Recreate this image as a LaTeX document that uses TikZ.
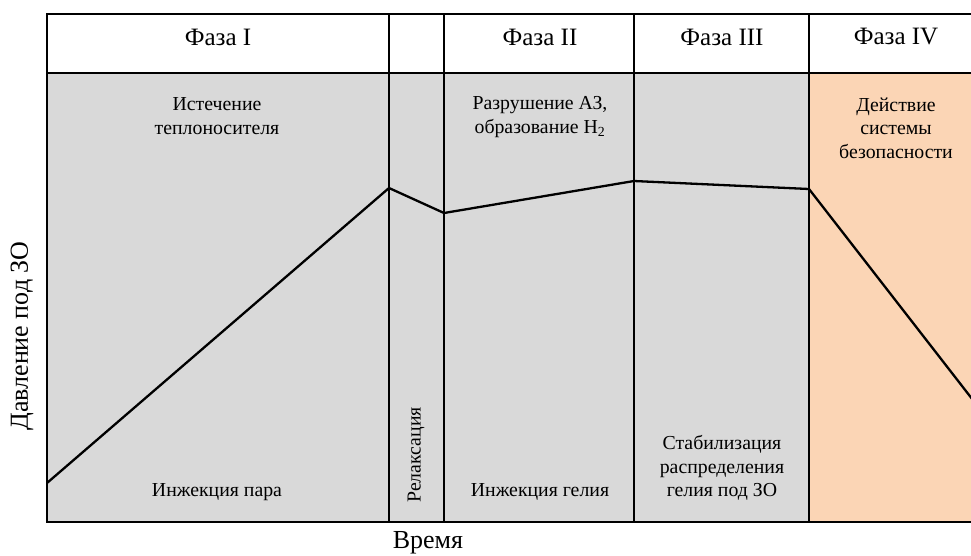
\documentclass[tikz,border=0pt]{standalone}
\usepackage{fontspec}
\setmainfont{Liberation Serif}
\definecolor{phasegray}{HTML}{D9D9D9}
\definecolor{phaseorange}{HTML}{FBD5B5}
\tikzset{
  frame/.style={line width=1.4pt},
  phasehead/.style={font=\fontsize{25}{28}\selectfont},
  phasetext/.style={align=center, font=\fontsize{19.8}{23.5}\selectfont},
  axislabel/.style={font=\fontsize{26}{30}\selectfont},
}
\begin{document}
\begin{tikzpicture}[x=1pt,y=-1pt]
  \clip (0,0) rectangle (971,555);
  \fill[phasegray] (47,73) rectangle (809,522);
  \fill[phaseorange] (809,73) rectangle (985,522);
  \draw[frame] (47,14) rectangle (985,522);
  \draw[frame] (47,73) -- (985,73);
  \foreach \x in {389,444,634,809}
    \draw[frame] (\x,14) -- (\x,522);
  % phases
  \node[phasehead] (ph1) at (218,37) {Фаза I};
  \node[phasehead] (ph2) at (540,37) {Фаза II};
  \node[phasehead] (ph3) at (722,37) {Фаза III};
  \node[phasehead] (ph4) at (896,37) {Фаза IV};
  % processes
  \node[phasetext] (flow) at (217,116) {Истечение\\теплоносителя};
  \node[phasetext] (core) at (540,117) {Разрушение АЗ,\\образование H\textsubscript{2}};
  \node[phasetext] (safety) at (896,128) {Действие\\системы\\безопасности};
  \node[phasetext] (steam) at (217,492) {Инжекция пара};
  \node[phasetext, rotate=90] (relax) at (416,455) {Релаксация};
  \node[phasetext] (helium) at (540,492) {Инжекция гелия};
  \node[phasetext] (stab) at (722,468) {Стабилизация\\распределения\\гелия под ЗО};
  % axes
  \node[axislabel] (time) at (428,543) {Время};
  \node[axislabel, rotate=90] (press) at (22,336) {Давление под ЗО};
  % pressure
  \coordinate (p0) at (47,483);
  \coordinate (p1) at (389,188);
  \coordinate (p2) at (444,213);
  \coordinate (p3) at (634,181);
  \coordinate (p4) at (809,189);
  \coordinate (p5) at (990,422);
  \draw[line width=2.3pt, line join=round] (p0) -- (p1) -- (p2) -- (p3) -- (p4) -- (p5);
\end{tikzpicture}
\end{document}
